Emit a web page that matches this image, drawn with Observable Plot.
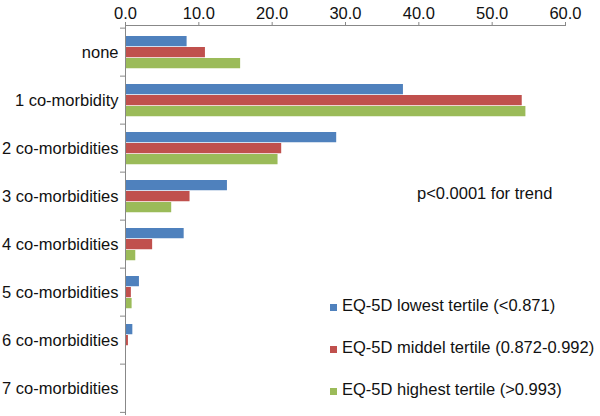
<!DOCTYPE html>
<html>
<head>
<meta charset="utf-8">
<script src="https://cdn.jsdelivr.net/npm/d3@7"></script>
<script src="https://cdn.jsdelivr.net/npm/@observablehq/plot@0.6"></script>
<style>
  html, body { margin: 0; padding: 0; background: #fff; }
  #wrap { position: relative; width: 600px; height: 416px; font-family: "Liberation Sans", Arial, Helvetica, sans-serif; }
  .note { position: absolute; font-size: 16.5px; color: #111; white-space: nowrap; line-height: 1; }
  .leg { position: absolute; font-size: 16.5px; color: #111; white-space: nowrap; line-height: 1; display: flex; align-items: center; }
  .sw { display: inline-block; width: 7px; height: 7px; margin-right: 5px; position: relative; top: 2px; }
</style>
</head>
<body>
<div id="wrap"></div>
<script>
const categories = ["none", "1 co-morbidity", "2 co-morbidities", "3 co-morbidities",
  "4 co-morbidities", "5 co-morbidities", "6 co-morbidities", "7 co-morbidities"];
const seriesNames = ["EQ-5D lowest tertile (<0.871)", "EQ-5D middel tertile (0.872-0.992)", "EQ-5D highest tertile (>0.993)"];
const lowest  = [8.4, 37.9, 28.8, 13.9, 8.0, 1.9, 1.0, 0.1];
const middle  = [10.9, 54.1, 21.3, 8.8, 3.7, 0.8, 0.4, 0.1];
const highest = [15.7, 54.6, 20.8, 6.3, 1.4, 0.9, 0.1, 0.0];
const xTicks = [0, 10, 20, 30, 40, 50, 60];
const colors = ["#4F81BD", "#C0504D", "#9BBB59"];
const annotation = "p<0.0001 for trend";

const W = 600, H = 416, mTop = 25, mBottom = 1, mLeft = 125, mRight = 35;
const bw = (H - mTop - mBottom) / categories.length;
const barH = 11, groupOff = 8;

const seriesValues = [lowest, middle, highest];
const rows = [];
seriesValues.forEach((vals, s) => vals.forEach((v, i) => rows.push({cat: categories[i], series: seriesNames[s], value: v})));

const barMarks = seriesNames.map((name, s) => Plot.barX(rows.filter(d => d.series === name), {
  x: "value", y: "cat", fill: "series",
  insetTop: groupOff + barH * s,
  insetBottom: bw - groupOff - barH * (s + 1)
}));

const chart = Plot.plot({
  width: W, height: H,
  marginTop: mTop, marginBottom: mBottom, marginLeft: mLeft, marginRight: mRight,
  style: {fontFamily: '"Liberation Sans", Arial, Helvetica, sans-serif', fontSize: "16.5px", color: "#111", background: "#fff"},
  x: {domain: [0, 60], axis: null, label: null},
  y: {domain: categories, padding: 0, axis: null, label: null},
  color: {domain: seriesNames, range: colors},
  marks: [
    ...barMarks,
    Plot.axisX({anchor: "top", label: null, ticks: xTicks, tickFormat: d => d.toFixed(1), tickSize: 4, tickPadding: 3, stroke: "#888", fill: "#111", fontSize: 16.5}),
    Plot.axisY({anchor: "left", label: null, tickSize: 0, tickPadding: 7, fill: "#111", fontSize: 16.5}),
    Plot.frame({anchor: "top", stroke: "#888"}),
    Plot.ruleX([0], {stroke: "#888"}),
    Plot.ruleY(categories, {y: d => d, x1: 0, x2: 0, insetLeft: -5, dy: -bw / 2, stroke: "#888"}),
    Plot.ruleY([categories[categories.length - 1]], {y: d => d, x1: 0, x2: 0, insetLeft: -5, dy: bw / 2 - 0.5, stroke: "#888"})
  ]
});

const wrap = document.getElementById("wrap");
wrap.appendChild(chart);

const note = document.createElement("div");
note.className = "note";
note.textContent = annotation;
note.style.left = "417px";
note.style.top = "185px";
wrap.appendChild(note);

const legTops = [297, 339, 381];
seriesNames.forEach((name, s) => {
  const d = document.createElement("div");
  d.className = "leg";
  d.style.left = "330px";
  d.style.top = legTops[s] + "px";
  const sw = document.createElement("span");
  sw.className = "sw";
  sw.style.background = chart.scale("color").apply(name);
  d.appendChild(sw);
  d.appendChild(document.createTextNode(name));
  wrap.appendChild(d);
});
</script>
</body>
</html>
